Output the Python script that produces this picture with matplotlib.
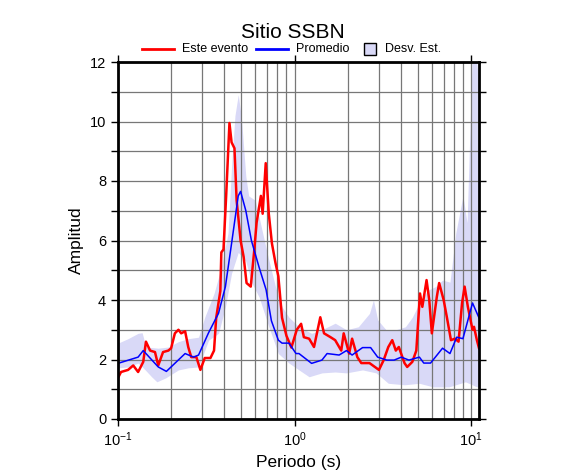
import numpy as np
import matplotlib.pyplot as plt
from matplotlib.lines import Line2D
from matplotlib.patches import Rectangle
from matplotlib.ticker import MultipleLocator, LogLocator

plt.rcParams['font.family'] = ['Liberation Sans', 'DejaVu Sans']

# Este evento (red)
t_evento = [0.1, 0.104, 0.114, 0.122, 0.13, 0.139, 0.144, 0.152, 0.162, 0.169, 0.18, 0.193,
            0.2, 0.21, 0.22, 0.228, 0.24, 0.25, 0.26, 0.278, 0.293, 0.31, 0.334, 0.35, 0.36,
            0.38, 0.385, 0.396, 0.41, 0.428, 0.44, 0.457, 0.47, 0.495, 0.515, 0.535, 0.565,
            0.59, 0.61, 0.645, 0.66, 0.687, 0.715, 0.745, 0.78, 0.81, 0.85, 0.9, 0.96,
            1.03, 1.09, 1.13, 1.21, 1.29, 1.4, 1.47, 1.6, 1.7, 1.84, 1.9, 2.04, 2.12, 2.27,
            2.39, 2.66, 3.01, 3.2, 3.4, 3.58, 3.75, 3.9, 4.2, 4.35, 4.65, 4.9, 5.14, 5.3,
            5.6, 5.8, 6.0, 6.4, 6.6, 7.0, 7.3, 7.7, 8.1, 8.5, 8.9, 9.2, 9.6, 10.2, 10.4,
            10.8, 11.1]
a_evento = [1.38, 1.58, 1.65, 1.8, 1.58, 1.92, 2.6, 2.3, 2.25, 1.8, 2.25, 2.3,
            2.38, 2.88, 3.0, 2.88, 2.95, 2.42, 2.08, 2.08, 1.65, 2.05, 2.05, 2.3, 3.4,
            4.3, 5.6, 5.7, 7.5, 9.95, 9.3, 9.1, 7.35, 6.0, 5.45, 4.57, 4.45,
            5.6, 6.6, 7.5, 6.9, 8.6, 6.9, 5.9, 5.25, 4.8, 3.4, 2.8, 2.4,
            3.0, 3.2, 2.75, 2.7, 2.42, 3.42, 2.88, 2.75, 2.65, 2.3, 2.88, 2.2, 2.7, 2.08,
            1.88, 1.88, 1.65, 1.98, 2.42, 2.65, 2.3, 2.42, 1.88, 1.75, 1.92, 2.3, 4.22, 3.77,
            4.67, 4.0, 2.88, 4.1, 4.57, 4.0, 3.42, 2.65, 2.7, 2.6, 3.9, 4.45, 3.77, 3.0, 3.1,
            2.65, 2.38]

# Promedio (blue)
t_prom = [0.1, 0.13, 0.139, 0.169, 0.188, 0.24, 0.268, 0.286, 0.326, 0.371, 0.406, 0.44,
          0.48, 0.495, 0.53, 0.57, 0.63, 0.69, 0.74, 0.81, 0.85, 0.93, 1.02, 1.06, 1.25,
          1.43, 1.53, 1.79, 1.97, 2.12, 2.43, 2.7, 2.96, 3.33, 3.67, 4.03, 4.45, 5.1, 5.4,
          5.9, 6.9, 7.6, 8.3, 9.0, 10.2, 11.1]
a_prom = [1.87, 2.08, 2.3, 1.75, 1.6, 2.2, 2.08, 2.15, 2.9, 3.55, 4.45, 5.9,
          7.5, 7.65, 7.0, 6.0, 5.1, 4.35, 3.3, 2.65, 2.55, 2.55, 2.2, 2.2, 1.87,
          1.98, 2.2, 2.15, 2.3, 2.15, 2.4, 2.4, 2.08, 1.98, 1.98, 2.08, 1.98, 2.08, 1.88,
          1.88, 2.38, 2.2, 2.75, 2.7, 3.9, 3.4]

# Desv. Est. band
t_sup = [0.1, 0.114, 0.13, 0.137, 0.144, 0.169, 0.193, 0.22, 0.25, 0.286, 0.31, 0.35,
         0.385, 0.42, 0.44, 0.46, 0.48, 0.5, 0.53, 0.55, 0.6, 0.66, 0.715, 0.78, 0.85,
         0.93, 1.06, 1.25, 1.43, 1.7, 1.97, 2.3, 2.66, 2.8, 2.96, 3.3, 3.75, 4.25, 4.65,
         5.2, 5.7, 6.3, 6.9, 7.6, 8.2, 9.0, 9.5, 10.2, 10.6, 11.1]
a_sup = [2.55, 2.7, 2.88, 2.9, 2.42, 2.38, 2.42, 2.6, 2.7, 2.75, 3.42, 4.22,
         5.1, 6.25, 8.5, 10.2, 10.9, 10.15, 8.15, 7.5, 7.35, 6.25, 5.35, 4.45, 3.77,
         3.42, 3.1, 2.88, 3.0, 3.22, 3.0, 3.1, 3.55, 4.0, 3.33, 3.0, 3.0, 3.1, 3.42,
         4.0, 4.33, 4.45, 4.67, 4.6, 6.25, 7.5, 6.6, 12.5, 12.5, 11.2]
t_inf = [0.1, 0.114, 0.13, 0.139, 0.155, 0.166, 0.186, 0.22, 0.25, 0.286, 0.326, 0.371,
         0.406, 0.44, 0.48, 0.53, 0.57, 0.63, 0.715, 0.81, 0.93, 1.06, 1.21, 1.43, 1.7,
         1.97, 2.43, 2.9, 3.4, 4.2, 5.1, 6.1, 7.5, 9.3, 10.8, 11.1]
a_inf = [1.72, 1.75, 1.88, 1.72, 1.42, 1.25, 1.38, 1.65, 1.72, 1.75, 2.65, 2.88,
         3.77, 4.9, 5.6, 5.3, 4.6, 4.1, 3.1, 2.2, 1.88, 1.65, 1.42, 1.55, 1.58,
         1.55, 1.65, 1.55, 1.2, 1.15, 1.2, 1.08, 1.08, 1.25, 1.08, 1.08]

fig = plt.figure(figsize=(5.86, 4.75), dpi=100)
ax = fig.add_axes([118 / 586, 1 - 419 / 475, 361 / 586, 357 / 475])

band_color = '#d9d9f7'
t_all = np.unique(np.concatenate([t_sup, t_inf]))
lo = np.interp(np.log10(t_all), np.log10(t_inf), a_inf)
hi = np.interp(np.log10(t_all), np.log10(t_sup), a_sup)
ax.fill_between(t_all, lo, hi, color=band_color, lw=0, zorder=1)

ax.set_xscale('log')
ax.set_xlim(0.1, 11.1)
ax.set_ylim(0, 12)

ax.set_yticks([0, 2, 4, 6, 8, 10, 12])
ax.yaxis.set_minor_locator(MultipleLocator(1))
ax.xaxis.set_major_locator(LogLocator(base=10))
ax.xaxis.set_minor_locator(LogLocator(base=10, subs=np.arange(2, 10)))

ax.grid(True, which='both', color='#777777', lw=0.9, zorder=2)

ax.plot(t_prom, a_prom, color='blue', lw=1.1, zorder=4)
ax.plot(t_evento, a_evento, color='red', lw=1.8, zorder=3)

ax.tick_params(which='both', direction='out', top=True, right=True, width=1, labelsize=10.5)
ax.tick_params(which='major', length=5)
ax.tick_params(axis='x', which='minor', length=0)
ax.tick_params(axis='y', which='minor', length=5)
for s in ax.spines.values():
    s.set_linewidth(2)
    s.set_zorder(5)

ax.set_xlabel('Periodo (s)', fontsize=12.5)
ax.set_ylabel('Amplitud', fontsize=12.5)
fig.text(0.5, 1 - 33 / 475, 'Sitio SSBN', ha='center', va='center', fontsize=15)

# legend row drawn by hand, GMT style
W, H = 586, 475
ly = 1 - 49 / H
fig.add_artist(Line2D([142 / W, 174 / W], [ly, ly], color='red', lw=2))
fig.text(182 / W, ly, 'Este evento', va='center', ha='left', fontsize=9)
fig.add_artist(Line2D([256 / W, 288 / W], [ly, ly], color='blue', lw=2))
fig.text(296 / W, ly, 'Promedio', va='center', ha='left', fontsize=9)
fig.add_artist(Rectangle((364 / W, ly - 6 / H), 12 / W, 12 / H, facecolor=band_color,
                         edgecolor='black', lw=1, transform=fig.transFigure))
fig.text(385 / W, ly, 'Desv. Est.', va='center', ha='left', fontsize=9)

fig.savefig('out.png', dpi=100)
